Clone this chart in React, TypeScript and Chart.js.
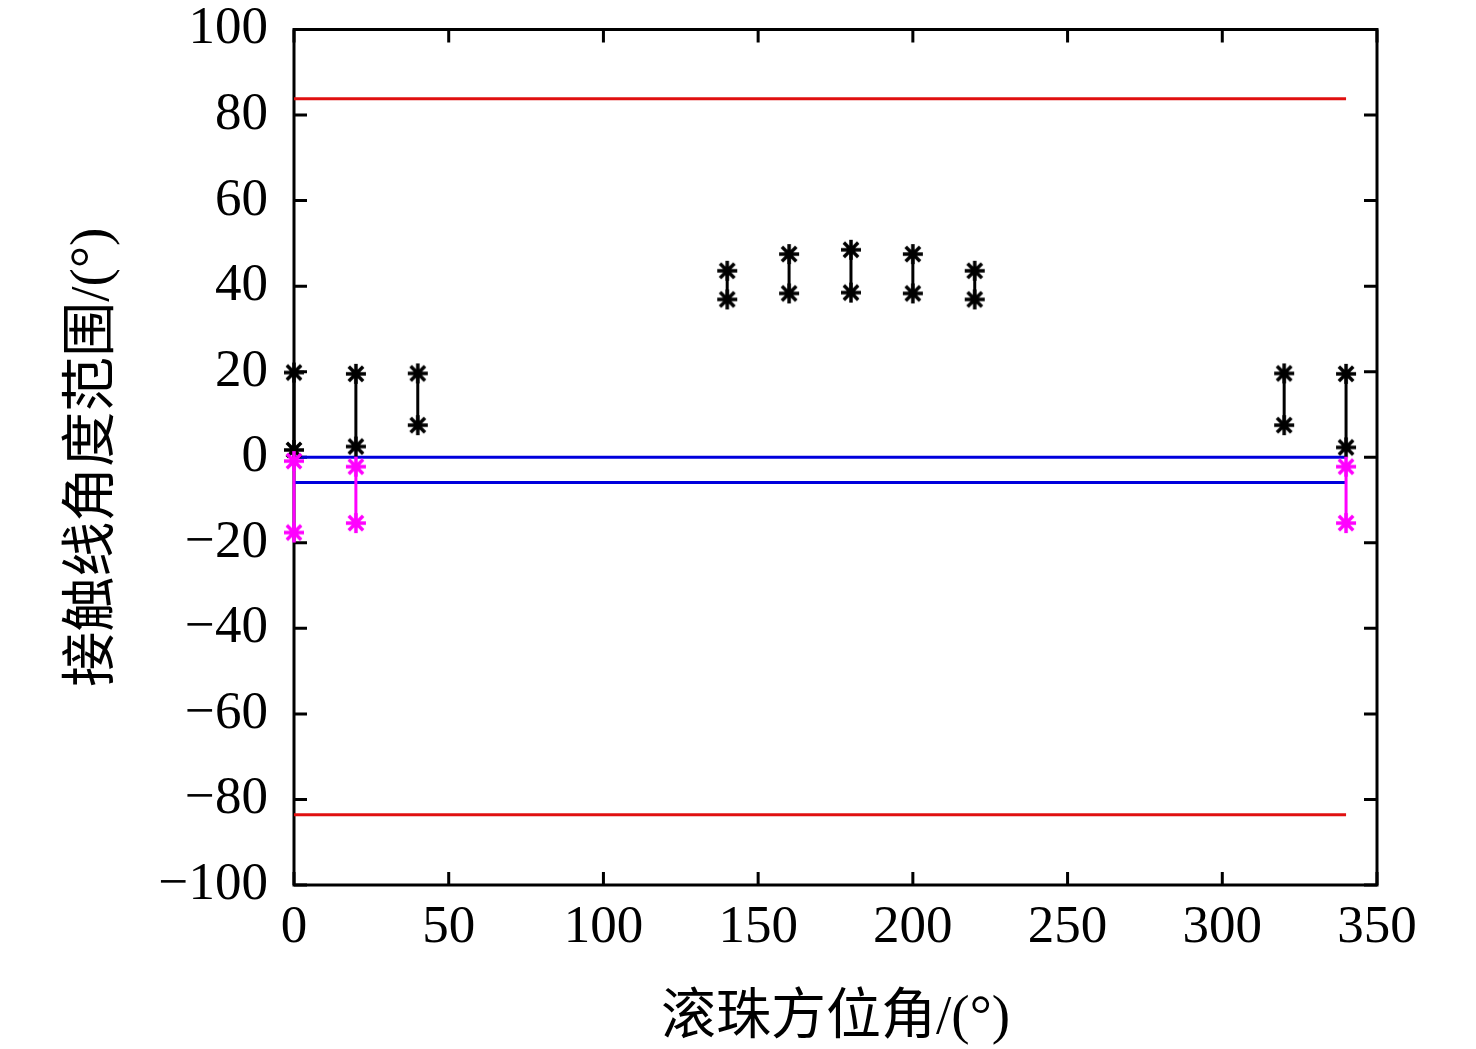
import { useEffect, useRef } from "react";
import { Chart, registerables } from "chart.js";

Chart.register(...registerables);

// axis ticks
const xTicks = [0, 50, 100, 150, 200, 250, 300, 350];
const yTicks = [-100, -80, -60, -40, -20, 0, 20, 40, 60, 80, 100];

// contact angle ranges (black = upper set, magenta = lower set)
const blackAngles = [0, 20, 40, 140, 160, 180, 200, 220, 320, 340];
const blackUpper = [19.8, 19.5, 19.6, 43.6, 47.5, 48.5, 47.5, 43.6, 19.6, 19.5];
const blackLower = [1.7, 2.5, 7.5, 36.9, 38.3, 38.5, 38.3, 36.9, 7.5, 2.3];
const magentaAngles = [0, 20, 340];
const magentaUpper = [-0.9, -2.2, -2.2];
const magentaLower = [-17.6, -15.4, -15.4];

// reference limit lines
const limitSpan = [0, 340];
const redLimits = [83.8, -83.6];
const blueLimits = [0, -5.9];

const SERIF = '"Liberation Serif", "Times New Roman", "Noto Sans CJK SC", serif';

// matlab-like '*' marker: plus + cross
function starMarker(color: string, r: number) {
  const lw = 3.5;
  const size = Math.ceil(2 * r + lw + 2);
  const c = document.createElement("canvas");
  c.width = size;
  c.height = size;
  const ctx = c.getContext("2d")!;
  ctx.strokeStyle = color;
  ctx.lineWidth = lw;
  ctx.lineCap = "butt";
  const m = size / 2;
  const d = r * 0.72;
  ctx.beginPath();
  ctx.moveTo(m, m - r);
  ctx.lineTo(m, m + r);
  ctx.moveTo(m - r, m);
  ctx.lineTo(m + r, m);
  ctx.moveTo(m - d, m - d);
  ctx.lineTo(m + d, m + d);
  ctx.moveTo(m - d, m + d);
  ctx.lineTo(m + d, m - d);
  ctx.stroke();
  return c;
}

function rangePoints(angles: number[], hi: number[], lo: number[]) {
  const pts: { x: number; y: number | null }[] = [];
  angles.forEach((a, i) => {
    pts.push({ x: a, y: hi[i] });
    pts.push({ x: a, y: lo[i] });
    pts.push({ x: a, y: null });
  });
  return pts;
}

// box + inward ticks on all four sides, drawn under the data
const framePlugin = {
  id: "frame",
  beforeDatasetsDraw(chart: any) {
    const { ctx, chartArea } = chart;
    const { left, right, top, bottom } = chartArea;
    const xs = chart.scales.x;
    const ys = chart.scales.y;
    const len = 13;
    ctx.save();
    ctx.strokeStyle = "#000";
    ctx.lineWidth = 3;
    ctx.beginPath();
    xTicks.forEach((v) => {
      const px = xs.getPixelForValue(v);
      ctx.moveTo(px, bottom);
      ctx.lineTo(px, bottom - len);
      ctx.moveTo(px, top);
      ctx.lineTo(px, top + len);
    });
    yTicks.forEach((v) => {
      const py = ys.getPixelForValue(v);
      ctx.moveTo(left, py);
      ctx.lineTo(left + len, py);
      ctx.moveTo(right, py);
      ctx.lineTo(right - len, py);
    });
    ctx.stroke();
    ctx.strokeRect(left, top, right - left, bottom - top);
    ctx.restore();
  },
};

export default function App() {
  const ref = useRef<HTMLCanvasElement | null>(null);

  useEffect(() => {
    if (!ref.current) return;
    const blackStar = starMarker("#000000", 10);
    const magentaStar = starMarker("#ff00ff", 10);

    const hLine = (y: number, color: string) => ({
      type: "line" as const,
      data: limitSpan.map((x) => ({ x, y })),
      borderColor: color,
      borderWidth: 3,
      pointRadius: 0,
      order: 3,
      clip: false as const,
    });

    const chart = new Chart(ref.current, {
      type: "line",
      data: {
        datasets: [
          {
            data: rangePoints(magentaAngles, magentaUpper, magentaLower),
            borderColor: "#ff00ff",
            borderWidth: 3,
            pointStyle: magentaStar,
            pointRadius: 10,
            spanGaps: false,
            order: 0,
            clip: false,
          },
          {
            data: rangePoints(blackAngles, blackUpper, blackLower),
            borderColor: "#000000",
            borderWidth: 3,
            pointStyle: blackStar,
            pointRadius: 10,
            spanGaps: false,
            order: 1,
            clip: false,
          },
          ...redLimits.map((y) => hLine(y, "#e01010")),
          ...blueLimits.map((y) => hLine(y, "#0000dd")),
        ] as any,
      },
      options: {
        animation: false,
        responsive: false,
        events: [],
        layout: { padding: { top: 29.5, right: 99, left: 0, bottom: 0 } },
        plugins: { legend: { display: false }, tooltip: { enabled: false } },
        scales: {
          x: {
            type: "linear",
            min: 0,
            max: 350,
            grid: { display: false },
            border: { display: false },
            afterBuildTicks: (s: any) => {
              s.ticks = xTicks.map((value) => ({ value }));
            },
            afterFit: (s: any) => {
              s.height = 164;
              s.paddingLeft = 0;
              s.paddingRight = 0;
            },
            ticks: {
              color: "#000",
              padding: 9,
              maxRotation: 0,
              font: { family: SERIF, size: 53, lineHeight: 1 },
            },
            title: {
              display: true,
              text: "滚珠方位角/(°)",
              color: "#000",
              font: { family: SERIF, size: 55, lineHeight: 1 },
              padding: { top: 0, bottom: 3 },
            },
          },
          y: {
            type: "linear",
            min: -100,
            max: 100,
            grid: { display: false },
            border: { display: false },
            afterBuildTicks: (s: any) => {
              s.ticks = yTicks.map((value) => ({ value }));
            },
            afterFit: (s: any) => {
              s.width = 294;
              s.paddingTop = 0;
              s.paddingBottom = 0;
            },
            ticks: {
              color: "#000",
              padding: 18,
              font: { family: SERIF, size: 53, lineHeight: 1 },
              callback: (v: any) => (Number(v) < 0 ? "\u2212" + Math.abs(Number(v)) : String(v)),
            },
            title: {
              display: true,
              text: "接触线角度范围/(°)",
              color: "#000",
              font: { family: SERIF, size: 55, lineHeight: 1 },
              padding: { top: 66, bottom: 0 },
            },
          },
        },
      },
      plugins: [framePlugin],
    });

    return () => chart.destroy();
  }, []);

  return (
    <div style={{ position: "absolute", left: 0, top: 0, width: 1476, height: 1049, background: "#fff" }}>
      <canvas ref={ref} width={1476} height={1049}></canvas>
    </div>
  );
}
